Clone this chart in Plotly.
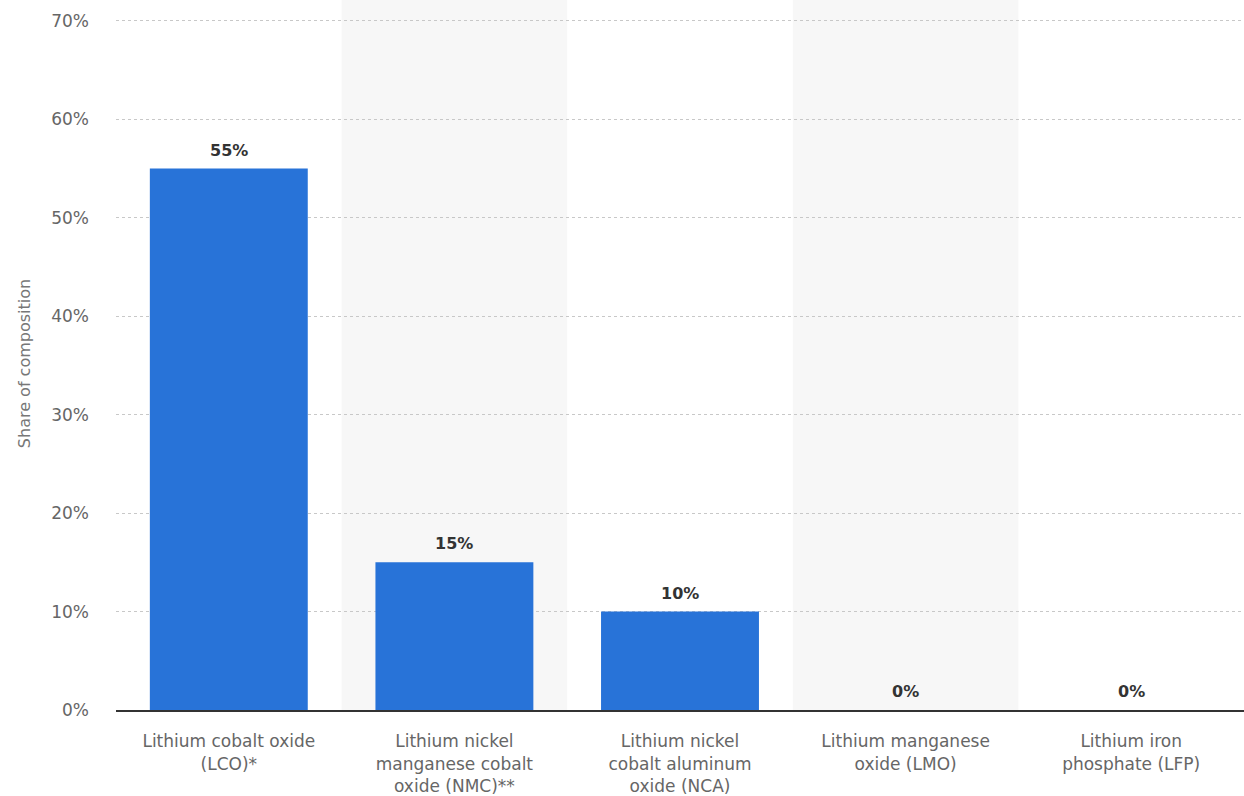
import plotly.graph_objects as go

categories = [
    "Lithium cobalt oxide<br>(LCO)*",
    "Lithium nickel<br>manganese cobalt<br>oxide (NMC)**",
    "Lithium nickel<br>cobalt aluminum<br>oxide (NCA)",
    "Lithium manganese<br>oxide (LMO)",
    "Lithium iron<br>phosphate (LFP)",
]
values = [55, 15, 10, 0, 0]
tick_vals = [0, 10, 20, 30, 40, 50, 60, 70]
tick_text = ["0%", "10%", "20%", "30%", "40%", "50%", "60%", "70%"]

xs = list(range(len(categories)))

fig = go.Figure()
fig.add_trace(go.Bar(
    x=xs,
    y=values,
    marker=dict(color="#2873d8", line=dict(width=0)),
    width=0.7,
    hoverinfo="skip",
))

annotations = [
    dict(x=x, y=v, xref="x", yref="y", text=f"<b>{v}%</b>", showarrow=False,
         yanchor="bottom", yshift=7,
         font=dict(family="DejaVu Sans", size=16, color="#333333"))
    for x, v in zip(xs, values)
]

shapes = []
for i in xs:
    if i % 2 == 1:
        shapes.append(dict(type="rect", xref="x", yref="paper", x0=i - 0.5, x1=i + 0.5,
                           y0=0, y1=1.03, fillcolor="#f7f7f7", line=dict(width=0), layer="below"))

fig.update_layout(
    width=1244, height=796,
    margin=dict(l=116, r=0, t=17, b=78),
    paper_bgcolor="white", plot_bgcolor="rgba(0,0,0,0)",
    showlegend=False,
    shapes=shapes,
    annotations=annotations,
    font=dict(family="DejaVu Sans", color="#666666"),
    xaxis=dict(
        tickmode="array", tickvals=xs, ticktext=categories,
        range=[-0.5, len(categories) - 0.5],
        showgrid=False, zeroline=False,
        showline=True, linecolor="#333333", linewidth=2,
        tickfont=dict(size=17, color="#666666"),
        ticks="", ticklen=0,
        ticklabelstandoff=15,
    ),
    yaxis=dict(
        range=[0, 70.4], tickmode="array", tickvals=tick_vals, ticktext=tick_text,
        showgrid=True, gridcolor="#c8c8c8", griddash="dot", gridwidth=1,
        zeroline=False, showline=False,
        tickfont=dict(size=17, color="#666666"),
        ticklabelstandoff=26,
        title=dict(text="Share of composition", font=dict(size=16, color="#777777"), standoff=16),
    ),
)

fig.write_html("out.html")
